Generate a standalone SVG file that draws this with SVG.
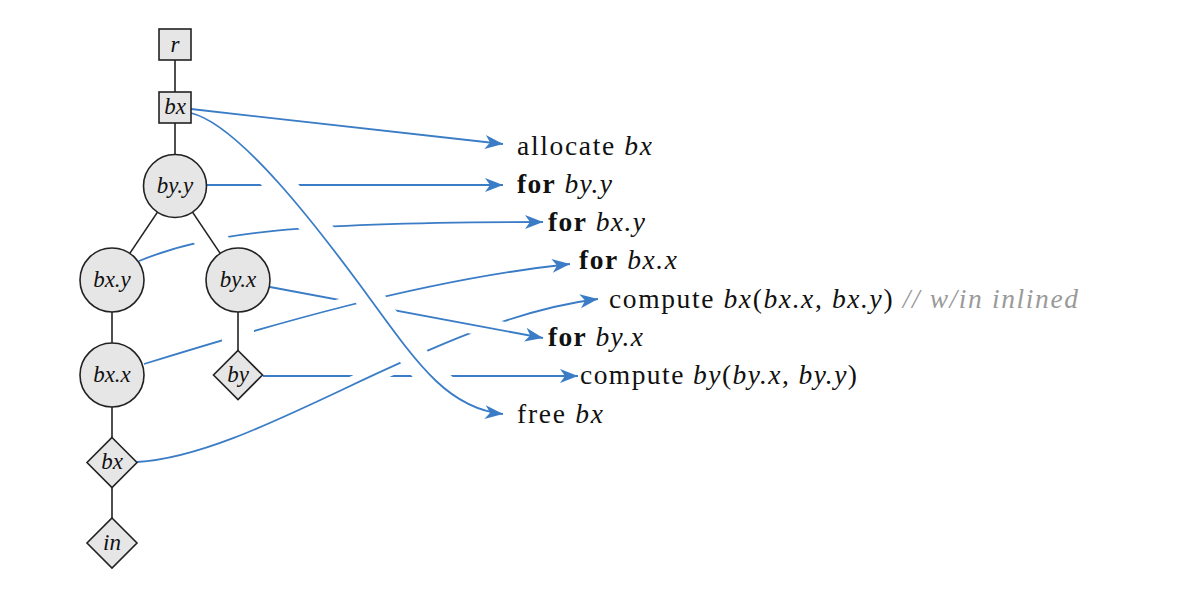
<svg xmlns="http://www.w3.org/2000/svg" width="1177" height="597" viewBox="0 0 1177 597">
<style>
.bl{fill:none;stroke:#3a7cc6;stroke-width:1.8;marker-end:url(#arr)}
.halo{fill:none;stroke:#ffffff}
.edge{stroke:#222222;stroke-width:1.6;fill:none}
.nd{fill:#e6e6e6;stroke:#222222;stroke-width:1.6}
.lab{font-family:"Liberation Serif","Times New Roman",serif;font-style:italic;font-size:23px;text-anchor:middle;fill:#111}
.tx{font-family:"Liberation Serif","Times New Roman",serif;font-size:27.5px;fill:#111}
.b{font-weight:bold}
.i{font-style:italic}
.cm{font-style:italic;fill:#9a9a9a}
</style>
<defs>
<marker id="arr" markerUnits="userSpaceOnUse" markerWidth="20" markerHeight="16" refX="18" refY="7" orient="auto"><path d="M0,0 L18,7 L0,14 L5,7 z" fill="#3a7cc6"/></marker>
</defs>
<rect width="1177" height="597" fill="#ffffff"/>
<g id="connectors">
<path class="bl" d="M207,185 L503,185"/>
<path class="bl" d="M139,261 C210,232 300,222 543,222"/>
<path class="bl" d="M191,109 L503,144"/>
<path class="bl" d="M263,376 L578,376"/>
<path class="halo" stroke-width="17" d="M137,462 C260,455 430,320 598,299"/>
<path class="bl" d="M137,462 C260,455 430,320 598,299"/>
<path class="halo" stroke-width="18" d="M270,287 L543,338"/>
<path class="bl" d="M270,287 L543,338"/>
<path class="halo" stroke-width="17" d="M144,364 C260,328 420,280 570,264"/>
<path class="bl" d="M144,364 C260,328 420,280 570,264"/>
<path class="halo" stroke-width="28" d="M232.4,137.4 C277.5,174.75 330,244.5 360,285 C415,360 445,408 503,414"/>
<path class="bl" d="M191,113 C240,125 320,231 360,285 C415,360 445,408 503,414"/>
</g>
<g id="tree-edges">
<path class="halo" stroke-width="32" d="M192.5,212.1 L220.2,253.4"/>
<path class="halo" stroke-width="32" d="M238,312 L238,350.5"/>
<path class="edge" d="M175,60 L175,92"/>
<path class="edge" d="M175,123 L175,154.5"/>
<path class="edge" d="M157.5,212.1 L129.8,253.4"/>
<path class="edge" d="M192.5,212.1 L220.2,253.4"/>
<path class="edge" d="M112,312 L112,343"/>
<path class="edge" d="M112,407 L112,437.5"/>
<path class="edge" d="M112,487.5 L112,518"/>
<path class="edge" d="M238,312 L238,350.5"/>
</g>
<g id="node-r"><rect class="nd" x="159" y="29" width="32" height="31"/><text class="lab" x="175" y="52">r</text></g>
<g id="node-bx-buf"><rect class="nd" x="159" y="92" width="32" height="31"/><text class="lab" x="175" y="114">bx</text></g>
<g id="node-by-y"><circle class="nd" cx="175" cy="186" r="31.5"/><text class="lab" x="175" y="193">by.y</text></g>
<g id="node-bx-y"><circle class="nd" cx="112" cy="280" r="32"/><text class="lab" x="112" y="287">bx.y</text></g>
<g id="node-by-x"><circle class="nd" cx="238" cy="280" r="32"/><text class="lab" x="238" y="287">by.x</text></g>
<g id="node-bx-x"><circle class="nd" cx="112" cy="375" r="32"/><text class="lab" x="112" y="382">bx.x</text></g>
<g id="node-by"><path class="nd" d="M238,350.5 L262.5,375 L238,399.5 L213.5,375 z"/><text class="lab" x="238" y="382">by</text></g>
<g id="node-bx"><path class="nd" d="M112,437.5 L137,462.5 L112,487.5 L87,462.5 z"/><text class="lab" x="112" y="469">bx</text></g>
<g id="node-in"><path class="nd" d="M112,518 L137,543 L112,568 L87,543 z"/><text class="lab" x="112" y="550">in</text></g>
<g id="code">
<g id="line-allocate"><text class="tx" x="517" y="154.5" textLength="135">allocate <tspan class="i">bx</tspan></text></g>
<g id="line-for-byy"><text class="tx" x="517" y="192.8" textLength="95"><tspan class="b">for</tspan> <tspan class="i">by.y</tspan></text></g>
<g id="line-for-bxy"><text class="tx" x="548" y="231.1" textLength="97"><tspan class="b">for</tspan> <tspan class="i">bx.y</tspan></text></g>
<g id="line-for-bxx"><text class="tx" x="579" y="269.4" textLength="98"><tspan class="b">for</tspan> <tspan class="i">bx.x</tspan></text></g>
<g id="line-compute-bx"><text class="tx" x="609" y="307.7" textLength="469">compute <tspan class="i">bx</tspan>(<tspan class="i">bx.x</tspan>, <tspan class="i">bx.y</tspan>) <tspan class="cm">// w/in inlined</tspan></text></g>
<g id="line-for-byx"><text class="tx" x="548" y="346" textLength="95"><tspan class="b">for</tspan> <tspan class="i">by.x</tspan></text></g>
<g id="line-compute-by"><text class="tx" x="580" y="384.3" textLength="277">compute <tspan class="i">by</tspan>(<tspan class="i">by.x</tspan>, <tspan class="i">by.y</tspan>)</text></g>
<g id="line-free"><text class="tx" x="517" y="422.6" textLength="86">free <tspan class="i">bx</tspan></text></g>
</g>
</svg>
